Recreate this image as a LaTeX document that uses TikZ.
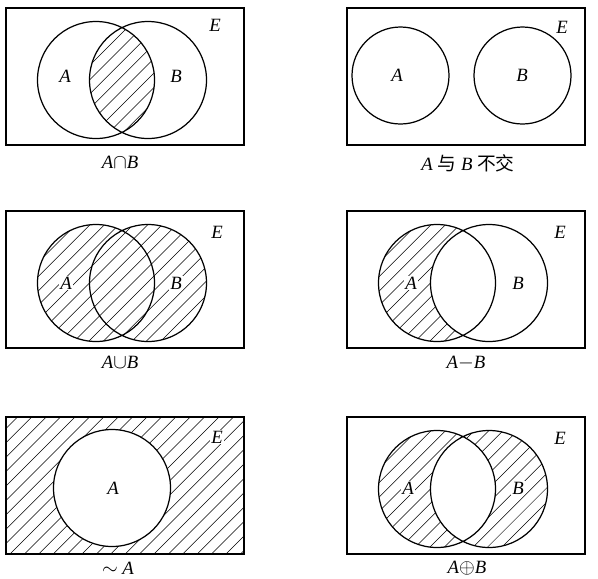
\documentclass[tikz,border=0pt]{standalone}
\usepackage{fontspec}
\setmainfont{Liberation Serif}
\newfontfamily\cjk{Noto Sans CJK SC}
\usetikzlibrary{positioning}

\newcommand\setsize{\fontsize{16}{19}\selectfont}
\tikzset{
  frame/.style={line width=1.2pt},
  setline/.style={line width=1.05pt},
  hatch/.style={line width=.45pt},
  setname/.style={font=\setsize\itshape,inner sep=1pt},
  cleared/.style={fill=white},
  captext/.style={font=\setsize,inner sep=0pt}
}
% hatching over one whole panel, cut by the clip in force
\newcommand\hatchpanel{\foreach \k in {0,...,27} \draw[hatch] ({-140+14.4*\k},137) -- ({-3+14.4*\k},0);}

\begin{document}
\begin{tikzpicture}[x=0.03cm,y=-0.03cm]
    \useasboundingbox (0,0) rectangle (598,578);

    %A cap B
    \begin{scope}[shift={(6,8)}]
        \begin{scope}
            \clip (90,72) circle (58.5);
            \clip (142,72) circle (58.5);
            \hatchpanel
        \end{scope}
        \draw[frame] (0,0) rectangle (238,137);
        \draw[setline] (90,72) circle (58.5) (142,72) circle (58.5);
        \node[setname] (a1) at (59,68) {A};
        \node[setname] (b1) at (170,68) {B};
        \node[setname] (e1) at (209,17) {E};
        \node[captext] (cap1) at (114,154) {\textit{A}$\cap$\textit{B}};
    \end{scope}

    %disjoint
    \begin{scope}[shift={(347,8)}]
        \draw[frame] (0,0) rectangle (238,137);
        \draw[setline] (53.5,67.5) circle (48.5) (175.5,67.5) circle (48.5);
        \node[setname] (a2) at (50,67) {A};
        \node[setname] (b2) at (175,67) {B};
        \node[setname] (e2) at (215,19) {E};
        \node[captext] (cap2) at (121,155) {\textit{A} {\cjk 与} \textit{B} {\cjk 不交}};
    \end{scope}

    %A cup B
    \begin{scope}[shift={(6,211)}]
        \begin{scope}
            \clip (90,72) circle (58.5) (142,72) circle (58.5);
            \hatchpanel
        \end{scope}
        \draw[frame] (0,0) rectangle (238,137);
        \draw[setline] (90,72) circle (58.5) (142,72) circle (58.5);
        \node[setname,cleared] (a3) at (60,72) {A};
        \node[setname,cleared] (b3) at (170,72) {B};
        \node[setname] (e3) at (211,21) {E};
        \node[captext] (cap3) at (114,151) {\textit{A}$\cup$\textit{B}};
    \end{scope}

    %A minus B
    \begin{scope}[shift={(347,211)}]
        \begin{scope}
            \clip (90,72) circle (58.5);
            \hatchpanel
            \fill[white] (142,72) circle (58.5);
        \end{scope}
        \draw[frame] (0,0) rectangle (238,137);
        \draw[setline] (90,72) circle (58.5) (142,72) circle (58.5);
        \node[setname,cleared] (a4) at (64,72) {A};
        \node[setname] (b4) at (171,72) {B};
        \node[setname] (e4) at (213,21) {E};
        \node[captext] (cap4) at (119,152) {\textit{A}$-$\textit{B}};
    \end{scope}

    %complement
    \begin{scope}[shift={(6,417)}]
        \begin{scope}
            \clip (0,0) rectangle (238,137);
            \hatchpanel
            \fill[white] (106,71) circle (58.5);
        \end{scope}
        \draw[frame] (0,0) rectangle (238,137);
        \draw[setline] (106,71) circle (58.5);
        \node[setname] (a5) at (107,71) {A};
        \node[setname,cleared] (e5) at (211,20) {E};
        \node[captext] (cap5) at (112,151) {$\sim$ \textit{A}};
    \end{scope}

    %symmetric difference
    \begin{scope}[shift={(347,417)}]
        \begin{scope}
            \clip (90,72) circle (58.5) (142,72) circle (58.5);
            \hatchpanel
        \end{scope}
        \begin{scope}
            \clip (90,72) circle (58.5);
            \fill[white] (142,72) circle (58.5);
        \end{scope}
        \draw[frame] (0,0) rectangle (238,137);
        \draw[setline] (90,72) circle (58.5) (142,72) circle (58.5);
        \node[setname,cleared] (a6) at (61,71) {A};
        \node[setname,cleared] (b6) at (171,71) {B};
        \node[setname] (e6) at (213,21) {E};
        \node[captext] (cap6) at (120,151) {\textit{A}$\oplus$\textit{B}};
    \end{scope}
\end{tikzpicture}
\end{document}
